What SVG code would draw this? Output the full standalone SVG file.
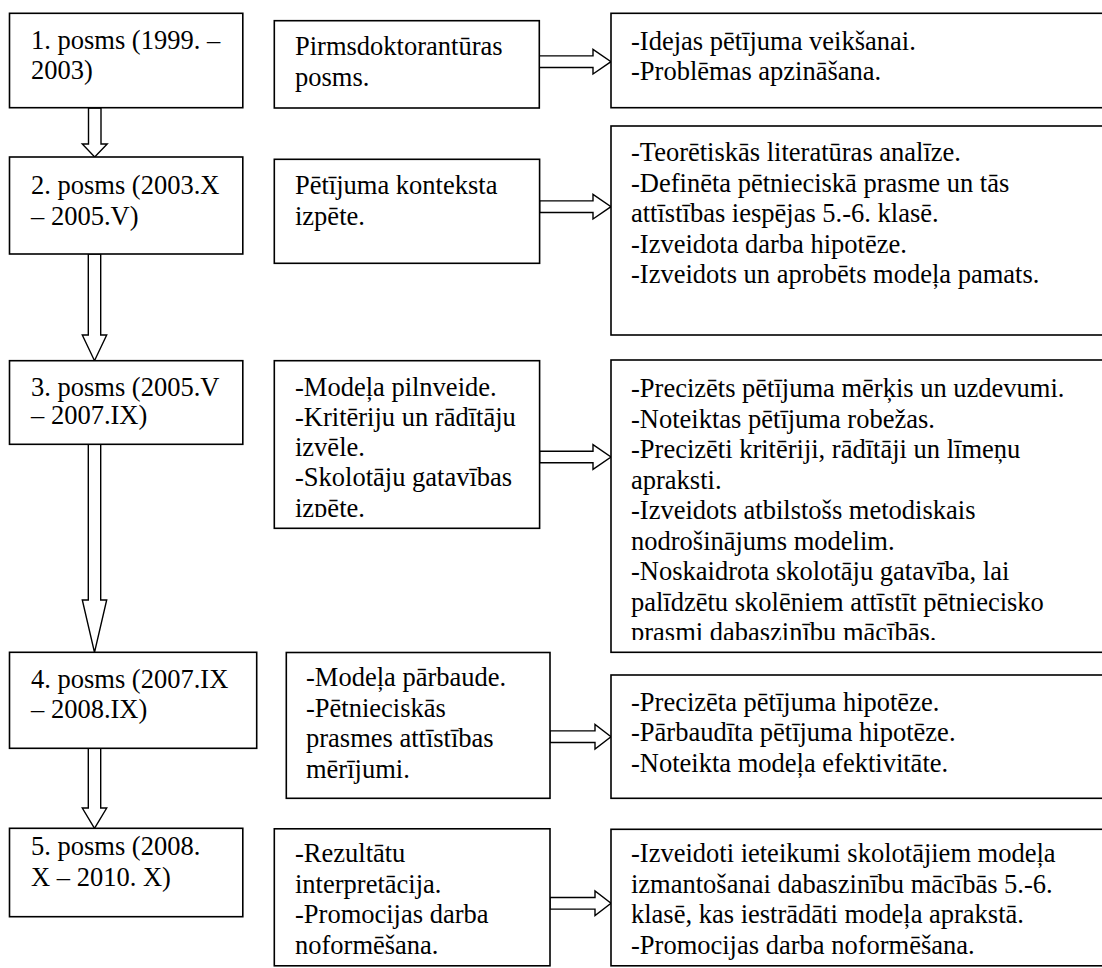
<svg xmlns="http://www.w3.org/2000/svg" width="1102" height="968" viewBox="0 0 1102 968">
  <style>
    .box { fill: #ffffff; stroke: #000000; stroke-width: 1.6; }
    .arrow { fill: #ffffff; stroke: #000000; stroke-width: 1.4; stroke-linejoin: miter; }
    text { font-family: "Liberation Serif", "Times New Roman", serif; font-size: 26.5px; fill: #000000; }
  </style>
  <defs>
    <clipPath id="clip-m3"><rect x="274" y="361" width="266" height="156"/></clipPath>
    <clipPath id="clip-r3"><rect x="611" y="360" width="500" height="280"/></clipPath>
  </defs>
  <rect width="1102" height="968" fill="#ffffff"/>

  <!-- vertical and horizontal block arrows -->
  <g id="connectors">
    <path class="arrow" d="M88.5,108 V144 H82.3 L94.7,157 L107.2,144 H101 V108 Z"/>
    <path class="arrow" d="M88.3,254 V335 H82.3 L94.5,360.7 L106.7,335 H100.7 V254 Z"/>
    <path class="arrow" d="M88.3,444 V600 H82.3 L94.5,652.3 L106.7,600 H100.7 V444 Z"/>
    <path class="arrow" d="M88.3,748 V808 H82.3 L94.5,828.3 L106.7,808 H100.7 V748 Z"/>

    <path class="arrow" d="M539,55.9 H593 V49.4 L611,61.7 L593,74 V67.5 H539 Z"/>
    <path class="arrow" d="M539.6,200.9 H593 V194.4 L611,206.7 L593,219 V212.5 H539.6 Z"/>
    <path class="arrow" d="M539.6,451.2 H593 V444.7 L611,457 L593,469.3 V462.8 H539.6 Z"/>
    <path class="arrow" d="M550,730.9 H595 V724.4 L611,736.7 L595,749 V742.5 H550 Z"/>
    <path class="arrow" d="M550,897.5 H595 V891 L611,903.3 L595,915.6 V909.1 H550 Z"/>
  </g>

  <!-- stage column -->
  <g id="stage-1">
    <rect class="box" x="9.5" y="13.3" width="233.3" height="94.4"/>
    <text x="31" y="48.5">1. posms (1999. –</text>
    <text x="31" y="79">2003)</text>
  </g>
  <g id="stage-2">
    <rect class="box" x="9.5" y="157" width="233.3" height="97"/>
    <text x="31" y="194">2. posms (2003.X</text>
    <text x="31" y="224.5">– 2005.V)</text>
  </g>
  <g id="stage-3">
    <rect class="box" x="9.5" y="360.7" width="233.3" height="83.6"/>
    <text x="31" y="396">3. posms (2005.V</text>
    <text x="31" y="424">– 2007.IX)</text>
  </g>
  <g id="stage-4">
    <rect class="box" x="9.5" y="652.3" width="247.2" height="96"/>
    <text x="31" y="687.7">4. posms (2007.IX</text>
    <text x="31" y="718">– 2008.IX)</text>
  </g>
  <g id="stage-5">
    <rect class="box" x="9.5" y="828.3" width="233.3" height="88.4"/>
    <text x="31" y="855">5. posms (2008.</text>
    <text x="31" y="885.5">X – 2010. X)</text>
  </g>

  <!-- activity column -->
  <g id="activity-1">
    <rect class="box" x="274.3" y="20.7" width="265" height="87.3"/>
    <text x="295" y="55">Pirmsdoktorantūras</text>
    <text x="295" y="86">posms.</text>
  </g>
  <g id="activity-2">
    <rect class="box" x="274.3" y="159.3" width="265.3" height="104"/>
    <text x="295" y="194">Pētījuma konteksta</text>
    <text x="295" y="224.5">izpēte.</text>
  </g>
  <g id="activity-3">
    <rect class="box" x="274.3" y="360.7" width="265.3" height="167.6"/>
    <g clip-path="url(#clip-m3)">
      <text x="295" y="396">-Modeļa pilnveide.</text>
      <text x="295" y="426">-Kritēriju un rādītāju</text>
      <text x="295" y="456">izvēle.</text>
      <text x="295" y="486">-Skolotāju gatavības</text>
      <text x="295" y="516.5">izpēte.</text>
    </g>
  </g>
  <g id="activity-4">
    <rect class="box" x="286.3" y="652.5" width="263.7" height="145.8"/>
    <text x="306" y="686">-Modeļa pārbaude.</text>
    <text x="306" y="716.5">-Pētnieciskās</text>
    <text x="306" y="747">prasmes attīstības</text>
    <text x="306" y="777.5">mērījumi.</text>
  </g>
  <g id="activity-5">
    <rect class="box" x="274.3" y="828.8" width="275.7" height="137"/>
    <text x="295" y="862">-Rezultātu</text>
    <text x="295" y="892.5">interpretācija.</text>
    <text x="295" y="923">-Promocijas darba</text>
    <text x="295" y="953.5">noformēšana.</text>
  </g>

  <!-- result column -->
  <g id="result-1">
    <rect class="box" x="611" y="13.3" width="500" height="94.4"/>
    <text x="631" y="49.5">-Idejas pētījuma veikšanai.</text>
    <text x="631" y="79.5">-Problēmas apzināšana.</text>
  </g>
  <g id="result-2">
    <rect class="box" x="611" y="126" width="500" height="209"/>
    <text x="631" y="161">-Teorētiskās literatūras analīze.</text>
    <text x="631" y="191.5">-Definēta pētnieciskā prasme un tās</text>
    <text x="631" y="222">attīstības iespējas 5.-6. klasē.</text>
    <text x="631" y="252.5">-Izveidota darba hipotēze.</text>
    <text x="631" y="283">-Izveidots un aprobēts modeļa pamats.</text>
  </g>
  <g id="result-3">
    <rect class="box" x="611" y="360" width="500" height="292.3"/>
    <g clip-path="url(#clip-r3)">
      <text x="631" y="397">-Precizēts pētījuma mērķis un uzdevumi.</text>
      <text x="631" y="427.5">-Noteiktas pētījuma robežas.</text>
      <text x="631" y="458">-Precizēti kritēriji, rādītāji un līmeņu</text>
      <text x="631" y="488.5">apraksti.</text>
      <text x="631" y="519">-Izveidots atbilstošs metodiskais</text>
      <text x="631" y="549.5">nodrošinājums modelim.</text>
      <text x="631" y="580">-Noskaidrota skolotāju gatavība, lai</text>
      <text x="631" y="610.5">palīdzētu skolēniem attīstīt pētniecisko</text>
      <text x="631" y="641">prasmi dabaszinību mācībās.</text>
    </g>
  </g>
  <g id="result-4">
    <rect class="box" x="611" y="675" width="500" height="123.3"/>
    <text x="631" y="710.5">-Precizēta pētījuma hipotēze.</text>
    <text x="631" y="741">-Pārbaudīta pētījuma hipotēze.</text>
    <text x="631" y="771.5">-Noteikta modeļa efektivitāte.</text>
  </g>
  <g id="result-5">
    <rect class="box" x="611" y="829.3" width="500" height="136.5"/>
    <text x="631" y="862">-Izveidoti ieteikumi skolotājiem modeļa</text>
    <text x="631" y="892.5">izmantošanai dabaszinību mācībās 5.-6.</text>
    <text x="631" y="923">klasē, kas iestrādāti modeļa aprakstā.</text>
    <text x="631" y="953.5">-Promocijas darba noformēšana.</text>
  </g>
</svg>
